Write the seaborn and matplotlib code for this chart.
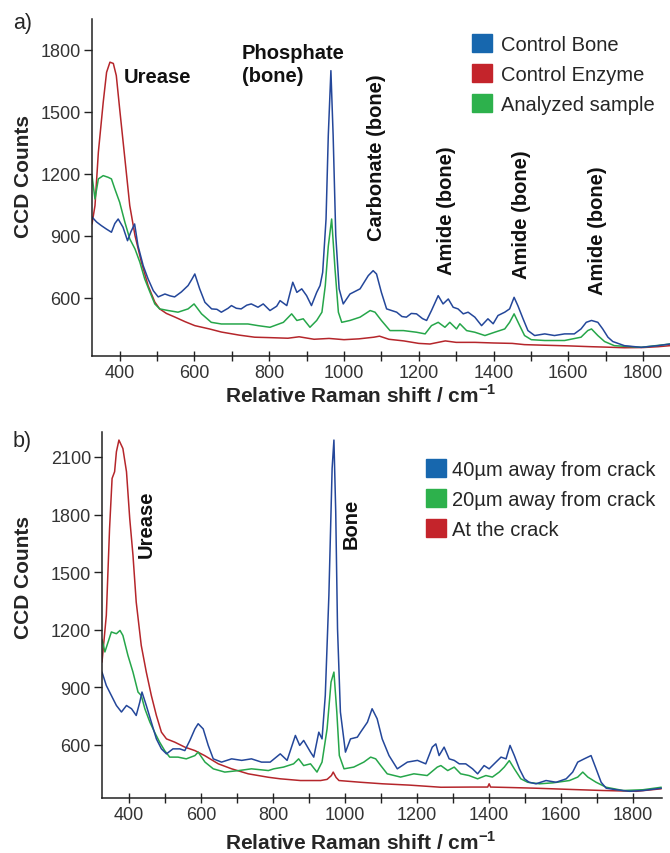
import numpy as np
import pandas as pd
import seaborn as sns
import matplotlib.pyplot as plt
from matplotlib.patches import Patch
from matplotlib.ticker import MultipleLocator

# ---- panel a) spectra (wavenumber / CCD counts, read off the figure) ----
a_bone_x = [326, 338, 351, 364, 378, 387, 396, 409, 421, 430, 440, 449, 463, 476, 490, 503, 521, 535, 547, 565,
            583, 593, 601, 614, 628, 646, 660, 672, 690, 699, 712, 725, 740, 752, 770, 784, 802, 820, 829, 847,
            863, 874, 887, 900, 913, 927, 936, 943, 952, 958, 965, 971, 978, 987, 998, 1016, 1043, 1065, 1078, 1087,
            1100, 1114, 1141, 1155, 1167, 1180, 1194, 1210, 1221, 1234, 1252, 1265, 1279, 1292, 1305, 1319, 1332, 1350, 1368, 1385,
            1399, 1412, 1430, 1443, 1455, 1465, 1479, 1492, 1510, 1537, 1563, 1590, 1616, 1634, 1648, 1662, 1679, 1692, 1706, 1719,
            1750, 1795, 1840, 1872]
a_bone_y = [992, 968, 950, 934, 918, 960, 982, 942, 877, 920, 958, 853, 756, 692, 635, 605, 619, 610, 605, 629,
            660, 690, 716, 644, 579, 547, 545, 531, 550, 563, 550, 547, 565, 571, 555, 571, 539, 560, 587, 563,
            676, 627, 644, 611, 563, 627, 660, 724, 982, 1386, 1700, 1386, 902, 644, 571, 619, 644, 708, 732, 716,
            627, 547, 531, 510, 507, 525, 523, 500, 491, 539, 611, 571, 595, 555, 547, 523, 531, 507, 466, 499,
            475, 515, 531, 547, 603, 563, 499, 442, 418, 426, 418, 426, 426, 450, 482, 491, 482, 450, 410, 389,
            369, 361, 369, 377]

a_enzyme_x = [326, 334, 343, 356, 365, 374, 383, 391, 400, 414, 427, 441, 458, 476, 494, 507, 525, 547, 575, 601,
              640, 672, 720, 761, 800, 850, 880, 920, 960, 1000, 1040, 1080, 1095, 1120, 1160, 1200, 1230, 1271, 1300, 1350,
              1400, 1450, 1483, 1520, 1560, 1600, 1661, 1700, 1750, 1800, 1840, 1872]
a_enzyme_y = [958, 1047, 1305, 1547, 1692, 1741, 1735, 1676, 1515, 1273, 1047, 902, 774, 660, 580, 547, 525, 508, 485, 466,
              450, 435, 420, 410, 408, 405, 412, 400, 404, 398, 402, 410, 415, 400, 392, 380, 377, 392, 385, 385,
              382, 380, 374, 372, 370, 368, 364, 362, 359, 360, 364, 369]

a_sample_x = [326, 334, 343, 356, 369, 378, 387, 400, 414, 427, 441, 454, 467, 481, 494, 507, 530, 556, 583, 599,
              619, 645, 672, 708, 743, 770, 802, 838, 860, 874, 891, 909, 927, 941, 950, 958, 967, 976, 985, 994,
              1016, 1043, 1070, 1083, 1100, 1123, 1159, 1194, 1217, 1234, 1252, 1270, 1283, 1301, 1310, 1328, 1350, 1377, 1403, 1430,
              1443, 1455, 1470, 1483, 1501, 1537, 1590, 1634, 1652, 1662, 1679, 1697, 1723, 1795, 1872]
a_sample_y = [1192, 1079, 1176, 1192, 1184, 1176, 1128, 1063, 966, 886, 837, 773, 692, 628, 571, 547, 539, 531, 547, 571,
              523, 482, 474, 474, 474, 466, 458, 482, 523, 491, 499, 458, 491, 531, 660, 850, 982, 740, 531, 482,
              491, 507, 539, 531, 491, 442, 442, 434, 426, 466, 482, 458, 482, 450, 475, 442, 434, 418, 434, 450,
              482, 523, 466, 418, 398, 394, 394, 410, 442, 450, 418, 389, 369, 361, 377]

# ---- panel b) spectra ----
b_40_x = [325, 337, 351, 365, 379, 393, 407, 420, 430, 436, 448, 462, 476, 490, 504, 522, 541, 555, 569, 583,
          592, 606, 620, 634, 657, 685, 713, 740, 768, 792, 820, 839, 862, 874, 885, 904, 913, 927, 936, 945,
          955, 964, 969, 974, 979, 987, 1001, 1015, 1034, 1043, 1062, 1075, 1089, 1103, 1122, 1145, 1173, 1201, 1224, 1242,
          1252, 1261, 1275, 1289, 1303, 1317, 1335, 1354, 1368, 1386, 1400, 1414, 1433, 1447, 1458, 1470, 1484, 1498, 1511, 1530,
          1558, 1586, 1614, 1632, 1646, 1664, 1683, 1697, 1711, 1725, 1753, 1790, 1827, 1878]
b_40_y = [979, 909, 857, 805, 771, 805, 788, 753, 823, 875, 805, 718, 631, 579, 553, 579, 579, 570, 623, 683,
          710, 683, 597, 527, 510, 527, 519, 527, 510, 510, 553, 519, 649, 597, 623, 562, 536, 666, 631, 857,
          1379, 2040, 2188, 1814, 1205, 771, 562, 631, 640, 666, 718, 788, 736, 631, 544, 475, 510, 519, 501, 588,
          605, 544, 588, 527, 519, 501, 501, 475, 449, 492, 475, 501, 536, 527, 597, 544, 475, 423, 405, 397,
          414, 405, 423, 458, 510, 527, 544, 475, 405, 374, 366, 358, 362, 374]

b_20_x = [325, 333, 342, 351, 365, 375, 383, 397, 411, 425, 434, 444, 458, 471, 485, 499, 513, 536, 559, 583,
          592, 611, 634, 666, 705, 740, 787, 802, 829, 857, 871, 885, 904, 922, 936, 950, 961, 969, 977, 984,
          997, 1024, 1052, 1071, 1085, 1099, 1117, 1154, 1191, 1228, 1256, 1266, 1285, 1303, 1321, 1344, 1368, 1391, 1409, 1428,
          1442, 1456, 1470, 1488, 1507, 1540, 1577, 1623, 1646, 1660, 1674, 1697, 1725, 1772, 1827, 1878]
b_20_y = [1150, 1084, 1136, 1188, 1179, 1196, 1170, 1066, 979, 875, 857, 788, 718, 666, 614, 570, 536, 536, 527, 544,
          562, 510, 475, 458, 466, 475, 466, 475, 484, 501, 527, 492, 501, 458, 510, 683, 927, 979, 771, 544,
          475, 484, 510, 536, 527, 492, 449, 432, 449, 440, 484, 492, 466, 484, 449, 440, 423, 440, 432, 458,
          484, 518, 475, 423, 405, 397, 402, 414, 432, 458, 432, 405, 379, 362, 366, 379]

b_crack_x = [325, 337, 346, 353, 360, 365, 372, 383, 393, 402, 411, 420, 434, 448, 462, 476, 490, 504, 527, 555,
             583, 610, 648, 685, 731, 787, 820, 876, 932, 950, 962, 967, 975, 983, 1043, 1104, 1180, 1266, 1350, 1396,
             1400, 1404, 1450, 1530, 1620, 1716, 1809, 1878]
b_crack_y = [1031, 1275, 1727, 1988, 2023, 2127, 2188, 2144, 2023, 1779, 1588, 1344, 1118, 979, 857, 753, 666, 631, 614, 588,
             570, 544, 501, 475, 449, 431, 423, 414, 414, 420, 440, 458, 430, 414, 405, 397, 390, 379, 380, 380,
             397, 380, 378, 374, 368, 362, 358, 371]

legend_a = ["Control Bone", "Control Enzyme", "Analyzed sample"]
legend_b = ["40\u00b5m away from crack", "20\u00b5m away from crack", "At the crack"]

line_blue, line_red, line_green = "#24479a", "#b5262b", "#26a64a"
sq_blue, sq_red, sq_green = "#1767ae", "#c4242b", "#2db14c"

sns.set_style("ticks")
plt.rcParams["font.family"] = ["Liberation Sans", "DejaVu Sans"]
plt.rcParams["mathtext.fontset"] = "custom"
plt.rcParams["mathtext.rm"] = "Liberation Sans"
plt.rcParams["mathtext.bf"] = "Liberation Sans:bold"

fig = plt.figure(figsize=(6.7, 8.54), dpi=100)
ax_a = fig.add_axes([92 / 670, 1 - 357 / 854, 578 / 670, 337 / 854])
ax_b = fig.add_axes([102 / 670, 1 - 799 / 854, 560 / 670, 366 / 854])


def draw(ax, series):
    for xs, ys, c in series:
        df = pd.DataFrame({"shift": xs, "counts": ys})
        sns.lineplot(data=df, x="shift", y="counts", ax=ax, color=c, lw=1.1, sort=False, legend=False)


def style(ax, yticks, ylim, xlim):
    ax.set_xlim(*xlim)
    ax.set_ylim(*ylim)
    ax.set_yticks(yticks)
    ax.xaxis.set_major_locator(MultipleLocator(200))
    ax.xaxis.set_minor_locator(MultipleLocator(100))
    for s in ["top", "right"]:
        ax.spines[s].set_visible(False)
    for s in ["left", "bottom"]:
        ax.spines[s].set_color("#222222")
        ax.spines[s].set_linewidth(1.1)
    ax.tick_params(axis="x", which="both", direction="inout", length=7, width=1, color="#222222",
                   labelsize=13, pad=2, labelcolor="#333333")
    ax.tick_params(axis="y", direction="out", length=6, width=1, color="#222222",
                   labelsize=13, pad=2, labelcolor="#333333")
    ax.set_xlabel(r"Relative Raman shift / cm$^{\mathbf{-1}}$", fontsize=15, fontweight="bold")
    ax.set_ylabel("CCD Counts", fontsize=15, fontweight="bold")


draw(ax_a, [(a_enzyme_x, a_enzyme_y, line_red), (a_sample_x, a_sample_y, line_green), (a_bone_x, a_bone_y, line_blue)])
style(ax_a, [600, 900, 1200, 1500, 1800], (319, 1950), (326, 1872))
ax_a.xaxis.set_label_coords(0.464, -0.08)
ax_a.yaxis.set_label_coords(-0.102, 0.537)

draw(ax_b, [(b_crack_x, b_crack_y, line_red), (b_20_x, b_20_y, line_green), (b_40_x, b_40_y, line_blue)])
style(ax_b, [600, 900, 1200, 1500, 1800, 2100], (323, 2230), (325, 1880))
ax_b.xaxis.set_label_coords(0.461, -0.089)
ax_b.yaxis.set_label_coords(-0.123, 0.604)

# peak annotations
bold = dict(fontsize=14.5, fontweight="bold", color="#111111")
ax_a.text(412, 1670, "Urease", ha="left", va="center", **bold)
ax_a.text(727, 1733, "Phosphate\n(bone)", ha="left", va="center", linespacing=1.3, **bold)
ax_a.text(1088, 1282, "Carbonate (bone)", rotation=90, ha="center", va="center", **bold)
ax_a.text(1275, 1026, "Amide (bone)", rotation=90, ha="center", va="center", **bold)
ax_a.text(1475, 1007, "Amide (bone)", rotation=90, ha="center", va="center", **bold)
ax_a.text(1678, 929, "Amide (bone)", rotation=90, ha="center", va="center", **bold)
ax_b.text(447, 1753, "Urease", rotation=90, ha="center", va="center", **bold)
ax_b.text(1017, 1758, "Bone", rotation=90, ha="center", va="center", **bold)

# legends with coloured squares
leg_kw = dict(loc="upper left", frameon=False, fontsize=14.5, handlelength=1.0, handleheight=1.0,
              labelspacing=0.5, borderpad=0, borderaxespad=0)
ax_a.legend([Patch(color=c) for c in [sq_blue, sq_red, sq_green]], legend_a,
            bbox_to_anchor=(0.657, 0.955), handletextpad=0.45, **leg_kw)
ax_b.legend([Patch(color=c) for c in [sq_blue, sq_green, sq_red]], legend_b,
            bbox_to_anchor=(0.579, 0.926), handletextpad=0.3, **leg_kw)

fig.text(13 / 670, 1 - 24 / 854, "a)", fontsize=15.5, ha="left", va="center")
fig.text(13 / 670, 1 - 442 / 854, "b)", fontsize=15.5, ha="left", va="center")

fig.savefig("out.png", dpi=100)
